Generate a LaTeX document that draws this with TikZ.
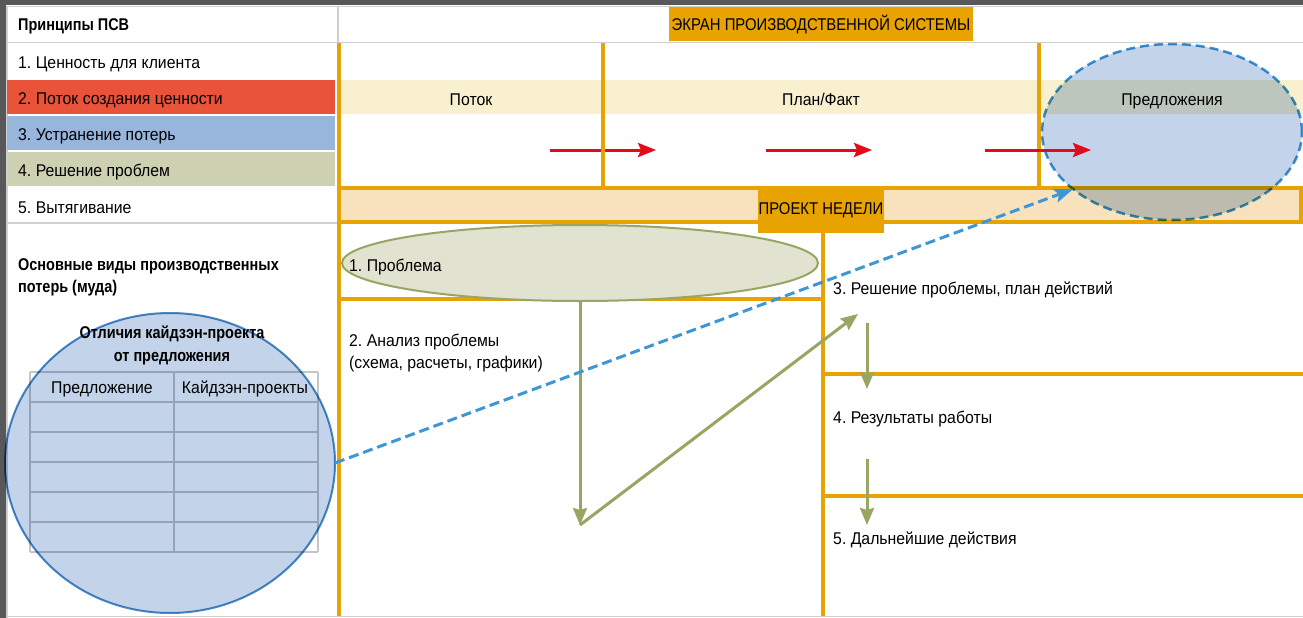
\documentclass[tikz,border=0pt]{standalone}
\usepackage{fontspec}
\setmainfont{Liberation Sans}[FakeStretch=0.93, BoldFeatures={FakeStretch=0.85}]
\newfontfamily\capsfont{Liberation Sans}[FakeStretch=0.875]
\usetikzlibrary{arrows.meta,shapes.geometric}
\definecolor{framegray}{HTML}{58585A}
\definecolor{linegray}{HTML}{CFCFCF}
\definecolor{orng}{HTML}{E8A202}
\definecolor{bandyel}{HTML}{F8F0CF}
\definecolor{peach}{HTML}{F8E2BD}
\definecolor{rowred}{HTML}{E8533A}
\definecolor{rowblue}{HTML}{98B5DC}
\definecolor{rowolive}{HTML}{CDD1B1}
\definecolor{grn}{HTML}{98A663}
\definecolor{grnfill}{HTML}{E1E2CF}
\definecolor{bluefill}{HTML}{C3D3EA}
\definecolor{bluestroke}{HTML}{4A8CC8}
\definecolor{dashblue}{HTML}{3D97D5}
\definecolor{arrred}{HTML}{E30A1A}
\definecolor{tblgray}{HTML}{C4C6C8}
\frenchspacing
\begin{document}
\frenchspacing
\begin{tikzpicture}[x=1pt,y=-1pt,
  txt/.style={inner sep=0pt, font=\fontsize{17}{22}\selectfont, text height=12.2pt, text depth=0pt},
  ctxt/.style={txt, font=\fontsize{17}{22}\selectfont\capsfont},
  ltxt/.style={txt, anchor=west},
  btxt/.style={txt, anchor=west, font=\fontsize{17}{22}\selectfont\bfseries},
  mtxt/.style={inner sep=0pt, font=\fontsize{17}{22}\selectfont},
  orline/.style={orng, line width=4pt},
  gline/.style={linegray, line width=1.5pt},
  grnarrow/.style={grn, line width=3pt, -{Stealth[length=17pt,width=14pt,inset=2pt]}},
  redarrow/.style={arrred, line width=3pt, -{Stealth[length=18pt,width=14pt,inset=3pt]}},
  dasharrow/.style={dashblue, line width=3pt, dash pattern=on 10pt off 5pt, -{Stealth[length=19pt,width=14pt,inset=4pt]}}
]
\useasboundingbox (0,0) rectangle (1303,618);
\fill[white] (0,0) rectangle (1303,618);
% frame
\fill[framegray] (0,0) rectangle (1303,5);
\fill[framegray] (0,0) rectangle (6,618);
\draw[gline] (6,6.5) -- (1303,6.5);
\draw[gline] (6.8,6) -- (6.8,618);
% left rows
\fill[rowred] (7,80) rectangle (335,114);
\fill[rowblue] (7,116) rectangle (335,150);
\fill[rowolive] (7,152) rectangle (335,186);
\draw[gline] (7,42.5) -- (1303,42.5);
\draw[gline] (338,7) -- (338,42);
\draw[gline] (7,223) -- (337,223);
\draw[gline] (7,616.5) -- (1303,616.5);
\node[btxt] (hdr) at (18,24) {Принципы ПСВ};
\node[ltxt] (p1) at (18,62) {1. Ценность для клиента};
\node[ltxt] (p2) at (18,98) {2. Поток создания ценности};
\node[ltxt] (p3) at (18,134) {3. Устранение потерь};
\node[ltxt] (p4) at (18,170) {4. Решение проблем};
\node[ltxt] (p5) at (18,207) {5. Вытягивание};
\node[mtxt, font=\fontsize{17}{22}\selectfont\bfseries, anchor=north west, align=left] (muda) at (18,258) {Основные виды производственных\\потерь (муда)};
% screen bands
\fill[bandyel] (341,80) rectangle (1303,114);
\coordinate (r1s) at (550,150); \coordinate (r1e) at (656,150);
\coordinate (r2s) at (766,150); \coordinate (r2e) at (872,150);
\coordinate (r3s) at (985,150); \coordinate (r3e) at (1091,150);
\draw[redarrow] (r1s) -- (r1e);
\draw[redarrow] (r2s) -- (r2e);
\draw[orng, line width=4pt, fill=peach] (339,188) rectangle (1301,222);
\draw[orline] (339,43) -- (339,616);
\draw[orline] (603,43) -- (603,188);
\draw[orline] (1039,43) -- (1039,188);
\draw[orline] (823,222) -- (823,616);
\draw[orline] (339,299) -- (823,299);
\draw[orline] (823,374) -- (1303,374);
\draw[orline] (823,496) -- (1303,496);
\fill[orng] (669,7) rectangle (973,41);
\fill[orng] (758,186) rectangle (884,233);
\node[ctxt] (title) at (821,24) {ЭКРАН ПРОИЗВОДСТВЕННОЙ СИСТЕМЫ};
\node[ctxt] (proj) at (821,208) {ПРОЕКТ НЕДЕЛИ};
\node[txt] (flow) at (471,99) {Поток};
\node[txt] (plan) at (821,99) {План/Факт};
\node[txt] (sugg) at (1172,99) {Предложения};
% problem ellipse
\node[ellipse, draw=grn, line width=2pt, fill=grnfill, minimum width=476pt, minimum height=76pt, inner sep=0pt, outer sep=0pt] (prob) at (580,263) {};
\node[ltxt] (probt) at (349,265) {1. Проблема};
\node[mtxt, anchor=north west, align=left] (anal) at (349,334) {2. Анализ проблемы\\(схема, расчеты, графики)};
\node[ltxt] (sol) at (833,288) {3. Решение проблемы, план действий};
\node[ltxt] (res) at (833,417) {4. Результаты работы};
\node[ltxt] (next) at (833,538) {5. Дальнейшие действия};
% table
\foreach \yy in {372,402,432,462,492,522,552} \draw[tblgray, line width=1.5pt] (30,\yy) -- (318,\yy);
\foreach \xx in {30,174,318} \draw[tblgray, line width=1.5pt] (\xx,372) -- (\xx,552);
% green arrows
\coordinate (v) at (580,525);
\coordinate (a3) at (858,314);
\coordinate (b1) at (867,323);
\coordinate (b2) at (867,389);
\coordinate (c1) at (867,459);
\coordinate (c2) at (867,525);
\draw[grnarrow] (prob.south) -- (v);
\draw[grnarrow] (v) -- (a3);
\draw[grnarrow] (b1) -- (b2);
\draw[grnarrow] (c1) -- (c2);
% blue shapes
\begin{scope}[blend mode=multiply]
\node[ellipse, fill=bluefill, draw=bluestroke, line width=2pt, minimum width=330pt, minimum height=300pt, inner sep=0pt, outer sep=0pt] (circ) at (170,463) {};
\node[ellipse, fill=bluefill, draw=dashblue, line width=2.5pt, dash pattern=on 9pt off 5pt, minimum width=260pt, minimum height=176pt, inner sep=0pt, outer sep=0pt] (prop) at (1172,132) {};
\end{scope}
\node[mtxt, font=\fontsize{17}{23}\selectfont\bfseries, anchor=north, align=center] (diff) at (172,326) {Отличия кайдзэн-проекта\\от предложения};
\node[txt] (th1) at (102,387) {Предложение};
\node[txt] (th2) at (245,387) {Кайдзэн-проекты};
\draw[dasharrow] (circ.east) -- (prop.210);
\draw[redarrow] (r3s) -- (r3e);
\end{tikzpicture}
\end{document}
